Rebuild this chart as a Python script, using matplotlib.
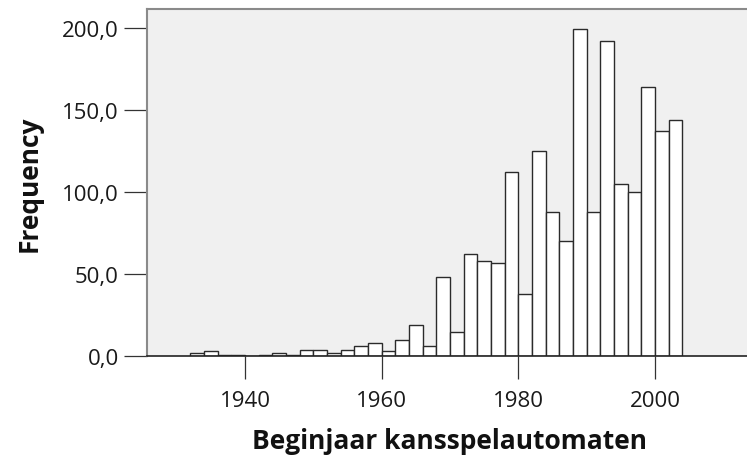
import matplotlib
matplotlib.use("Agg")
import matplotlib.pyplot as plt
from matplotlib.ticker import FuncFormatter

# Histogram data: 2-year bins (left edges) and frequencies
bin_starts = [1932, 1934, 1936, 1938, 1940, 1942, 1944, 1946, 1948, 1950,
              1952, 1954, 1956, 1958, 1960, 1962, 1964, 1966, 1968, 1970,
              1972, 1974, 1976, 1978, 1980, 1982, 1984, 1986, 1988, 1990,
              1992, 1994, 1996, 1998, 2000, 2002]
counts = [2, 3, 1, 1, 0, 1, 2, 1, 4, 4,
          2, 4, 6, 8, 3, 10, 19, 6, 48, 15,
          62, 58, 57, 112, 38, 125, 88, 70, 199, 88,
          192, 105, 100, 164, 137, 144]
bin_width = 2
x_ticks = [1940, 1960, 1980, 2000]
y_ticks = [0, 50, 100, 150, 200]
x_label = "Beginjaar kansspelautomaten"
y_label = "Frequency"

plt.rcParams['font.family'] = ['Open Sans', 'DejaVu Sans']

fig = plt.figure(figsize=(7.47, 4.56), dpi=100)
ax = fig.add_axes([146.7 / 747, (456 - 357.3) / 456, (747 - 146.7) / 747, (357.3 - 10.3) / 456])
ax.set_facecolor('#f0f0f0')

ax.bar(bin_starts, counts, width=bin_width, align='edge', color='white',
       edgecolor='#2b2b2b', linewidth=1.0, zorder=3)

ax.set_xlim(1925.6, 2013.46)
ax.set_ylim(0, 211.2)
ax.set_xticks(x_ticks)
ax.set_yticks(y_ticks)
ax.yaxis.set_major_formatter(FuncFormatter(lambda v, p: f"{v:.1f}".replace('.', ',')))

ax.spines['right'].set_visible(False)
ax.spines['top'].set_color('#8a8a8a')
ax.spines['left'].set_color('#8a8a8a')
ax.spines['top'].set_linewidth(1.5)
ax.spines['left'].set_linewidth(1.5)
ax.spines['bottom'].set_color('#222222')
ax.spines['bottom'].set_linewidth(1.2)
ax.spines['bottom'].set_zorder(4)

ax.tick_params(axis='both', direction='out', length=16.5, width=0.9, color='#333333',
               labelsize=16, labelcolor='#1a1a1a')
ax.tick_params(axis='x', pad=8)
ax.tick_params(axis='y', pad=3.5)

ax.set_xlabel(x_label, fontsize=19, fontweight='bold', color='#111111')
ax.set_ylabel(y_label, fontsize=19, fontweight='bold', color='#111111')
ax.xaxis.set_label_coords(0.504, -0.203)
ax.yaxis.set_label_coords(-0.174, 0.5)

fig.savefig("out.png", dpi=100)
